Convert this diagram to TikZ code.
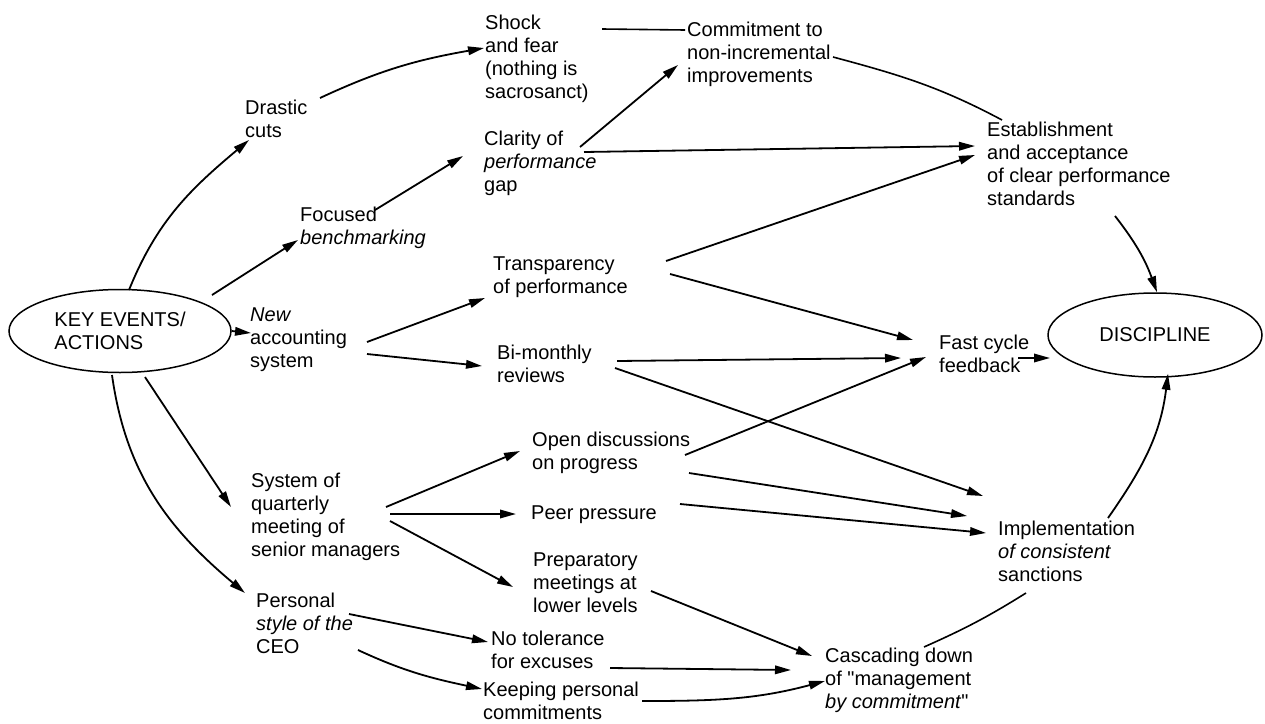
\documentclass[tikz,border=0pt]{standalone}
\usepackage{fontspec}
\setmainfont{Liberation Sans}
\usetikzlibrary{arrows.meta,shapes.geometric}
\begin{document}
\begin{tikzpicture}[x=1pt,y=-1pt,
  txt/.style={anchor=north west,inner sep=0pt,align=left,font=\fontsize{20}{23}\selectfont,execute at begin node=\strut},
  ell/.style={ellipse,draw,line width=1.5pt,inner sep=0pt,align=left,font=\fontsize{20}{23}\selectfont},
  conn/.style={line width=1.8pt,-{Triangle[length=16pt,width=8.5pt]}},
  plain/.style={line width=1.6pt}]
\useasboundingbox (0,0) rectangle (1265,723);
\node[ell,minimum width=222pt,minimum height=83pt] (key) at (120,331) {KEY EVENTS/\\ACTIONS};
\node[ell,minimum width=214pt,minimum height=84pt] (disc) at (1155,335) {DISCIPLINE};
\node[txt] (shock) at (485,15) {Shock\\and fear\\(nothing is\\sacrosanct)};
\node[txt] (commit) at (687,22) {Commitment to\\non-incremental\\improvements};
\node[txt] (drastic) at (245,100) {Drastic\\cuts};
\node[txt] (clarity) at (484,131) {Clarity of\\\textit{performance}\\gap};
\node[txt] (establish) at (987,122) {Establishment\\and acceptance\\of clear performance\\standards};
\node[txt] (focused) at (300,207) {Focused\\\textit{benchmarking}};
\node[txt] (transp) at (493,257) {Transparency\\of performance};
\node[txt] (new) at (250,308) {\textit{New}\\accounting\\system};
\node[txt] (bimonthly) at (497,345) {Bi-monthly\\reviews};
\node[txt] (fast) at (939,335) {Fast cycle\\feedback};
\node[txt] (open) at (532,432) {Open discussions\\on progress};
\node[txt] (system) at (251,473) {System of\\quarterly\\meeting of\\senior managers};
\node[txt] (peer) at (531,503) {Peer pressure};
\node[txt] (prep) at (533,553) {Preparatory\\meetings at\\lower levels};
\node[txt] (personal) at (256,593) {Personal\\\textit{style of the}\\CEO};
\node[txt] (notol) at (491,631) {No tolerance\\for excuses};
\node[txt] (keeping) at (483,682) {Keeping personal\\commitments};
\node[txt] (impl) at (998,521) {Implementation\\\textit{of consistent}\\sanctions};
\node[txt] (cascade) at (825,648) {Cascading down\\of \textquotedbl management\\\textit{by commitment}\textquotedbl};
% connectors
\draw[conn] ([shift={(9,-41)}]key.center) to[out=68,in=220] ([shift={(4,40)}]drastic.north west);
\draw[conn] ([shift={(75,-2)}]drastic.north west) to[out=25,in=190] ([shift={(-1,33)}]shock.north west);
\draw[conn] ([shift={(92,-36)}]key.center) -- ([shift={(-2,33)}]focused.north west);
\draw[conn] ([shift={(75,3)}]focused.north west) -- ([shift={(-21,25)}]clarity.north west);
\draw[conn] (key.east) -- ([shift={(1,25)}]new.north west);
\draw[plain] ([shift={(117,14)}]shock.north west) -- ([shift={(-2,8)}]commit.north west);
\draw[conn] ([shift={(96,16)}]clarity.north west) -- ([shift={(-9,43)}]commit.north west);
\draw[conn] ([shift={(100,21)}]clarity.north west) -- ([shift={(-12,24)}]establish.north west);
\draw[plain] ([shift={(146,35)}]commit.north west) to[out=-15,in=152] ([shift={(15,-2)}]establish.north west);
\draw[conn] ([shift={(173,4)}]transp.north west) -- ([shift={(-12,33)}]establish.north west);
\draw[conn] ([shift={(177,17)}]transp.north west) -- ([shift={(-26,5)}]fast.north west);
\draw[conn] ([shift={(128,94)}]establish.north west) to[out=-52,in=110] ([shift={(2,0)}]disc.north);
\draw[conn] ([shift={(79,23)}]fast.north west) -- ([shift={(-105,23)}]disc.center);
\draw[conn] ([shift={(117,34)}]new.north west) -- ([shift={(-8,41)}]transp.north west);
\draw[conn] ([shift={(117,46)}]new.north west) -- ([shift={(-15,21)}]bimonthly.north west);
\draw[conn] ([shift={(120,16)}]bimonthly.north west) -- ([shift={(-38,23)}]fast.north west);
\draw[conn] ([shift={(118,23)}]bimonthly.north west) -- ([shift={(-15,-25)}]impl.north west);
\draw[conn] ([shift={(153,23)}]open.north west) -- ([shift={(-13,22)}]fast.north west);
\draw[conn] ([shift={(157,41)}]open.north west) -- ([shift={(-31,-5)}]impl.north west);
\draw[conn] ([shift={(149,1)}]peer.north west) -- ([shift={(-12,12)}]impl.north west);
\draw[conn] ([shift={(25,46)}]key.center) -- ([shift={(-20,34)}]system.north west);
\draw[conn] ([shift={(-8,44)}]key.center) to[out=-82,in=140] ([shift={(-11,0)}]personal.north west);
\draw[conn] ([shift={(135,34)}]system.north west) -- ([shift={(-12,19)}]open.north west);
\draw[conn] ([shift={(139,41)}]system.north west) -- ([shift={(-15,11)}]peer.north west);
\draw[conn] ([shift={(139,48)}]system.north west) -- ([shift={(-20,34)}]prep.north west);
\draw[conn] ([shift={(93,21)}]personal.north west) -- ([shift={(-3,11)}]notol.north west);
\draw[conn] ([shift={(102,57)}]personal.north west) to[out=-25,in=168] ([shift={(-1,7)}]keeping.north west);
\draw[conn] ([shift={(118,38)}]prep.north west) -- ([shift={(-13,8)}]cascade.north west);
\draw[conn] ([shift={(119,37)}]notol.north west) -- ([shift={(-34,22)}]cascade.north west);
\draw[conn] ([shift={(159,19)}]keeping.north west) to[out=0,in=195] ([shift={(0,33)}]cascade.north west);
\draw[plain] ([shift={(99,-1)}]cascade.north west) to[out=24,in=212] ([shift={(28,72)}]impl.north west);
\draw[conn] ([shift={(110,-3)}]impl.north west) to[out=55,in=-97] ([shift={(13,-4)}]disc.south);
\end{tikzpicture}
\end{document}
